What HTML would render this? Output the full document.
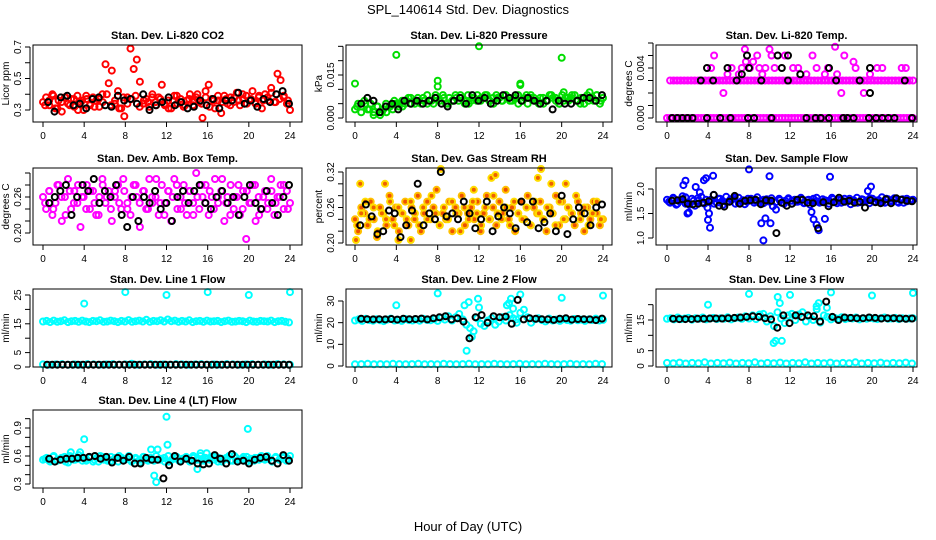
<!DOCTYPE html>
<html><head><meta charset="utf-8">
<style>
body{margin:0;background:#fff;}
svg{display:block;font-family:"Liberation Sans",Arial,sans-serif;}
</style></head>
<body>
<svg id="c" width="936" height="540" viewBox="0 0 936 540">
<text x="468" y="14" text-anchor="middle" font-size="13">SPL_140614  Std. Dev. Diagnostics</text>
<text x="468" y="531" text-anchor="middle" font-size="13">Hour of Day (UTC)</text>
</svg>
<script>
const xTicks=[0,4,8,12,16,20,24];
// CO2
const co2Red=[0.35,0.38,0.33,0.40,0.31,0.36,0.29,0.38,0.34,0.37,0.32,0.39,0.35,0.30,0.37,0.33,0.38,0.36,0.32,0.40,0.59,0.47,0.55,0.34,0.42,0.31,0.26,0.38,0.69,0.56,0.62,0.48,0.34,0.37,0.32,0.40,0.35,0.38,0.46,0.33,0.36,0.31,0.39,0.34,0.37,0.32,0.36,0.40,0.33,0.38,0.35,0.25,0.42,0.46,0.37,0.31,0.36,0.28,0.39,0.34,0.38,0.35,0.41,0.33,0.37,0.39,0.36,0.42,0.34,0.38,0.31,0.40,0.36,0.44,0.35,0.53,0.49,0.38,0.34,0.30];
const co2RedB=[0.33,0.36,0.39,0.31,0.35,0.38,0.33,0.37,0.30,0.36,0.39,0.34,0.32,0.37,0.35,0.40,0.33,0.36,0.31,0.38,0.34,0.37,0.39,0.32,0.36,0.35,0.38,0.33,0.37,0.34,0.31,0.36,0.39,0.35,0.33,0.37,0.36,0.40,0.34,0.38,0.32,0.36,0.39,0.35,0.37,0.33,0.38,0.36,0.40,0.34,0.37,0.35,0.39,0.36,0.38,0.41,0.35,0.37,0.39,0.36];
const co2Black=[0.35,0.29,0.38,0.39,0.33,0.34,0.31,0.37,0.38,0.33,0.32,0.39,0.36,0.37,0.34,0.40,0.30,0.33,0.35,0.38,0.33,0.35,0.31,0.32,0.36,0.33,0.37,0.31,0.36,0.36,0.41,0.34,0.36,0.32,0.37,0.35,0.40,0.42,0.34];
// Pressure
const presGreen=[0.003,0.005,0.004,0.006,0.003,0.005,0.002,0.004,0.001,0.003,0.002,0.004,0.003,0.005,0.004,0.006,0.005,0.007,0.005,0.006,0.007,0.005,0.006,0.008,0.006,0.005,0.007,0.006,0.008,0.005,0.007,0.006,0.008,0.006,0.007,0.005,0.008,0.006,0.007,0.008,0.006,0.007,0.008,0.006,0.007,0.008,0.007,0.006,0.008,0.007,0.006,0.007,0.008,0.006,0.007,0.005,0.008,0.007,0.006,0.007,0.005,0.006,0.008,0.007,0.006,0.005,0.008,0.007,0.006,0.007,0.008,0.006,0.007,0.005,0.008,0.007,0.006,0.008,0.005,0.007];
const presGreenB=[0.004,0.002,0.005,0.003,0.001,0.004,0.002,0.005,0.004,0.006,0.005,0.004,0.006,0.007,0.005,0.006,0.007,0.005,0.006,0.008,0.006,0.007,0.005,0.006,0.007,0.008,0.006,0.005,0.007,0.006,0.007,0.008,0.006,0.005,0.007,0.006,0.008,0.006,0.007,0.005,0.006,0.008,0.007,0.006,0.005,0.007,0.006,0.008,0.007,0.005,0.006,0.007,0.008,0.006,0.005,0.007,0.006,0.007,0.008,0.006];
const presOutH=[0,4,8,8,12,16,16,20,20.2,22.7];
const presOutV=[0.012,0.022,0.013,0.011,0.025,0.0115,0.012,0.021,0.009,0.009];
const presBlack=[0.005,0.007,0.006,0.002,0.004,0.005,0.003,0.006,0.005,0.006,0.005,0.006,0.007,0.005,0.004,0.006,0.007,0.005,0.008,0.006,0.007,0.005,0.006,0.008,0.007,0.008,0.006,0.007,0.006,0.005,0.006,0.003,0.006,0.005,0.005,0.006,0.007,0.007,0.006,0.008];
// Li-820 temp
const tempMagZero=[0,0,0,0,0,0,0,0,0,0,0,0,0,0,0,0,0,0,0,0,0,0,0,0,0,0,0,0,0,0,0,0,0,0,0,0,0,0,0,0,0,0,0,0,0,0,0,0,0,0,0,0,0,0,0,0,0,0,0,0,0,0,0,0,0,0,0,0,0,0,0,0,0,0,0,0,0,0,0,0];
const tempMagRow=[0.003,0.003,0.003,0.003,0.003,0.003,0.003,0.003,0.003,0.003,0.003,0.003,0.003,0.003,0.003,0.003,0.003,0.003,0.003,0.003,0.003,0.003,0.003,0.003,0.003,0.003,0.003,0.003,0.003,0.003,0.003,0.003,0.003,0.003,0.003,0.003,0.003,0.003,0.003,0.003,0.003,0.003,0.003,0.003,0.003,0.003,0.003,0.003,0.003,0.003,0.003,0.003,0.003,0.003,0.003,0.003,0.003,0.003,0.003,0.003,0.003,0.003,0.003,0.003,0.003,0.003,0.003,0.003,0.003,0.003];
const tempScatH=[4.3,4.6,5.5,5.9,6.3,7.0,7.3,7.6,7.7,7.8,8.1,8.4,8.8,9.0,9.3,9.6,10.0,10.2,10.5,11.2,11.5,12.3,12.8,13.6,14.2,14.6,15.4,15.7,16.4,16.6,17.0,17.3,18.2,18.4,19.2,19.8,20.5,21.0,22.9,23.3];
const tempScatV=[0.004,0.005,0.002,0.0035,0.004,0.0035,0.004,0.0055,0.0045,0.006,0.004,0.0045,0.005,0.004,0.0035,0.004,0.0055,0.005,0.004,0.006,0.005,0.004,0.004,0.0035,0.005,0.004,0.0035,0.004,0.0057,0.0035,0.002,0.005,0.0045,0.004,0.002,0.0035,0.004,0.004,0.004,0.004];
const tempBlackH=[0.5,1,1.5,2,2.5,3.3,3.9,4.5,5.2,6.2,6.8,7.9,8.5,9.2,10.2,11.8,13.6,14.5,15.0,15.8,16.5,17.2,17.6,18.2,18.8,19.7,20.4,21.0,21.6,22.2,23.2,23.9];
const tempBlackV=[0,0,0,0,0,0.003,0,0.003,0,0,0.003,0,0,0.003,0,0.003,0,0,0,0,0.003,0,0,0,0.003,0,0,0,0,0,0.003,0];
const tempBlackXH=[3.9,5.9,7.3,7.8,8.0,10.8,11.2,11.8,13.0,15.8,19.8,19.8];
const tempBlackXV=[0.004,0.004,0.0035,0.005,0.004,0.005,0.004,0.005,0.0035,0.004,0.004,0.002];
// Amb box temp
const ambMag=[0.26,0.24,0.27,0.23,0.25,0.28,0.22,0.26,0.29,0.24,0.27,0.25,0.21,0.26,0.28,0.24,0.27,0.23,0.26,0.29,0.25,0.27,0.22,0.26,0.28,0.24,0.27,0.25,0.23,0.28,0.26,0.21,0.27,0.24,0.29,0.25,0.26,0.23,0.28,0.25,0.27,0.22,0.29,0.24,0.26,0.28,0.23,0.27,0.25,0.30,0.24,0.26,0.28,0.23,0.26,0.29,0.25,0.27,0.22,0.26,0.28,0.24,0.26,0.23,0.27,0.19,0.25,0.28,0.22,0.26,0.24,0.27,0.25,0.29,0.23,0.26,0.28,0.24,0.27,0.25];
const ambMagB=[0.25,0.27,0.24,0.28,0.26,0.23,0.27,0.25,0.28,0.26,0.24,0.27,0.25,0.23,0.28,0.26,0.24,0.27,0.25,0.29,0.24,0.26,0.28,0.25,0.27,0.24,0.26,0.29,0.25,0.23,0.27,0.26,0.28,0.24,0.25,0.27,0.23,0.26,0.28,0.25,0.27,0.24,0.26,0.29,0.25,0.23,0.26,0.28,0.24,0.27,0.25,0.28,0.23,0.26,0.24,0.27,0.25,0.26,0.28,0.24];
const ambBlack=[0.25,0.26,0.27,0.28,0.23,0.26,0.28,0.27,0.29,0.25,0.27,0.26,0.28,0.23,0.21,0.26,0.22,0.26,0.25,0.27,0.24,0.25,0.22,0.26,0.27,0.25,0.27,0.28,0.25,0.24,0.26,0.27,0.25,0.26,0.23,0.26,0.28,0.25,0.24,0.27,0.25,0.23,0.26,0.28];
// Gas stream RH
const rhOr=[0.24,0.22,0.26,0.25,0.23,0.27,0.24,0.21,0.26,0.25,0.23,0.28,0.24,0.26,0.22,0.25,0.27,0.23,0.26,0.24,0.28,0.22,0.25,0.27,0.24,0.26,0.29,0.23,0.25,0.24,0.27,0.22,0.26,0.25,0.28,0.23,0.25,0.26,0.24,0.27,0.22,0.25,0.28,0.24,0.26,0.23,0.27,0.25,0.29,0.24,0.26,0.22,0.25,0.27,0.24,0.28,0.23,0.26,0.25,0.27,0.24,0.22,0.26,0.25,0.28,0.23,0.27,0.24,0.26,0.25,0.23,0.27,0.25,0.22,0.26,0.24,0.27,0.25,0.23,0.24];
const rhOrB=[0.23,0.25,0.27,0.24,0.26,0.22,0.25,0.24,0.27,0.23,0.26,0.25,0.24,0.27,0.25,0.23,0.26,0.24,0.28,0.25,0.23,0.26,0.24,0.27,0.25,0.22,0.26,0.24,0.27,0.25,0.23,0.26,0.24,0.28,0.25,0.24,0.26,0.23,0.27,0.25,0.24,0.26,0.23,0.27,0.25,0.24,0.26,0.25,0.23,0.27,0.24,0.26,0.25,0.28,0.24,0.26,0.23,0.25,0.27,0.24];
const rhOutH=[0.1,0.5,2.9,4.2,5.4,8.3,11.5,13.2,13.6,17.7,18.0,19.0,20.4];
const rhOutV=[0.205,0.30,0.30,0.205,0.205,0.325,0.29,0.31,0.315,0.31,0.325,0.30,0.30];
const rhBlack=[0.23,0.265,0.245,0.215,0.22,0.255,0.25,0.21,0.23,0.255,0.30,0.23,0.25,0.24,0.32,0.245,0.25,0.24,0.27,0.25,0.225,0.24,0.27,0.22,0.245,0.26,0.25,0.225,0.27,0.235,0.27,0.225,0.235,0.25,0.22,0.28,0.215,0.24,0.26,0.25,0.23,0.26,0.265];
// Sample flow
const sfBlue=[1.78,1.72,1.82,1.68,1.75,1.85,1.70,1.52,1.80,1.66,1.76,1.84,1.70,1.62,1.78,1.88,1.72,1.80,1.68,1.84,1.74,1.79,1.70,1.82,1.75,1.69,1.80,1.77,1.72,1.83,1.76,1.71,1.79,1.74,1.65,1.58,1.80,1.72,1.76,1.81,1.70,1.78,1.74,1.82,1.71,1.77,1.68,1.80,1.75,1.72,1.79,1.76,1.70,1.82,1.74,1.78,1.72,1.80,1.75,1.69,1.77,1.82,1.73,1.78,1.76,1.71,1.80,1.74,1.77,1.83,1.72,1.79,1.75,1.81,1.74,1.78,1.72,1.80,1.76,1.78];
const sfBlueB=[1.74,1.80,1.70,1.77,1.83,1.68,1.76,1.81,1.72,1.78,1.75,1.70,1.80,1.76,1.73,1.79,1.82,1.71,1.77,1.74,1.80,1.76,1.72,1.78,1.75,1.81,1.73,1.77,1.70,1.79,1.76,1.74,1.80,1.72,1.78,1.75,1.82,1.73,1.77,1.76,1.79,1.71,1.78,1.74,1.80,1.76,1.72,1.79,1.75,1.81,1.74,1.77,1.73,1.80,1.76,1.78,1.72,1.79,1.75,1.77];
const sfOutH=[1.6,1.8,2.0,2.8,3.2,3.6,3.8,4.0,4.1,4.2,4.5,8.0,9.2,9.4,9.6,10.0,10.1,14.1,14.3,14.6,14.8,15.4,15.9,19.6,19.9];
const sfOutV=[2.08,2.17,1.50,2.04,1.93,2.18,2.22,1.37,1.50,1.21,2.27,2.40,1.30,0.95,1.40,2.26,1.30,1.53,1.38,1.27,1.16,1.39,2.25,1.96,2.05];
const sfBlack=[1.76,1.77,1.79,1.70,1.69,1.70,1.72,1.75,1.88,1.66,1.64,1.74,1.86,1.70,1.76,1.77,1.78,1.69,1.77,1.76,1.10,1.72,1.66,1.70,1.78,1.78,1.72,1.71,1.20,1.73,1.65,1.73,1.82,1.74,1.76,1.72,1.74,1.62,1.77,1.73,1.71,1.79,1.71,1.81,1.78,1.76,1.75];
// Line 1 flow
const l1CyanHigh=[15.8,16.0,15.6,16.1,15.7,15.9,16.2,15.6,15.9,16.0,15.7,16.1,15.8,15.6,16.0,15.9,16.2,15.7,15.8,16.1,15.9,15.6,16.0,15.8,16.3,15.7,15.9,16.1,15.8,16.4,15.7,16.0,15.9,16.2,15.8,16.5,15.9,16.1,15.7,16.0,15.8,16.2,15.6,15.9,16.0,15.7,16.1,15.8,15.9,16.0,15.6,15.9,16.1,15.7,15.8,16.0,15.9,15.6,16.1,15.8,15.7,16.0,15.9,15.8,16.1,15.6,15.9,16.0,15.7,15.5];
const l1OutH=[4,8,12,16,20,24];
const l1OutV=[22,26,25,26,25,26];
const l1CyanLow=[0.9,0.8,0.9,1.0,0.8,0.9,0.8,1.0,0.9,0.8,0.9,1.0,0.8,0.9,1.1,0.8,0.9,1.0,0.8,0.9,0.8,1.0,0.9,0.8,0.9,1.0,0.8,0.9,0.8,1.0,0.9,0.8,0.9,1.0,0.8,0.9,0.8,1.0,0.9,0.8];
const l1Black=[0.8,0.8,0.8,0.8,0.8,0.8,0.8,0.8,0.8,0.8,0.8,0.8,0.8,0.8,0.8,0.8,0.8,0.8,0.8,0.8,0.8,0.8,0.8,0.8,0.8,0.8,0.8,0.8,0.8,0.8,0.8,0.8,0.8,0.8,0.8,0.8,0.8,0.8,0.8,0.8,0.8,0.8,0.8,0.8,0.8,0.8,0.8,0.8];
// Line 2 flow
const l2Cyan=[21.0,21.5,20.8,21.8,21.2,20.9,21.6,21.1,20.7,21.4,21.9,21.0,21.3,20.8,21.7,21.2,21.0,21.5,20.9,21.8,21.3,21.1,21.6,20.8,22.2,21.4,23.0,21.0,22.5,24.0,21.5,19.0,17.5,16.0,22.0,19.5,18.5,21.0,22.0,19.0,20.5,22.5,21.0,23.5,22.0,20.0,24.5,26.0,22.5,20.0,21.5,22.0,21.2,20.6,21.9,21.0,21.4,20.8,21.6,21.2,20.9,21.7,21.1,21.4,20.8,21.5,21.2,21.9,21.0,21.3];
const l2OutH=[4,8,10.6,10.8,11.0,11.3,11.9,12.0,14.7,14.9,15.1,15.3,15.6,16.0,20,24];
const l2OutV=[28,33.5,28,7,29.5,13.5,31,27,28,29,31,26.5,21.5,33,31.5,32.5];
const l2CyanLow=[0.8,0.9,1.0,0.8,0.9,0.8,1.0,0.9,0.8,0.9,1.0,0.8,0.9,0.8,1.0,0.9,0.8,0.9,1.0,0.8,0.9,0.8,1.0,0.9,0.8,0.9,1.0,0.8,0.9,0.8,1.0,0.9,0.8,0.9,1.0,0.8,0.9,0.8,1.0,0.9];
const l2Black=[21.8,21.6,21.5,21.6,21.5,21.7,21.4,21.8,21.6,21.7,21.9,21.5,22.0,22.5,23.0,21.5,22.0,20.5,12.8,22.5,23.5,20.0,23.0,22.5,22.8,19.5,30.5,21.5,22.0,21.8,21.6,21.5,21.3,21.8,22.0,21.4,21.7,21.6,21.5,21.2,21.9];
// Line 3 flow
const l3Cyan=[15.4,15.6,15.2,15.8,15.3,15.5,15.7,15.1,15.6,15.4,15.8,15.2,15.5,15.7,15.3,15.6,15.4,15.9,15.2,15.6,15.8,15.4,16.2,15.5,16.5,15.3,16.8,17.0,14.5,16.2,13.0,17.5,15.5,14.0,16.5,17.0,15.0,16.8,17.5,14.5,16.0,15.0,18.5,14.2,16.5,16.0,15.2,15.7,15.4,15.9,15.3,15.6,15.5,15.8,15.2,15.6,15.4,15.7,15.5,15.3,15.6,15.8,15.4,15.5,15.7,15.3,15.6,15.4,15.5,15.6];
const l3OutH=[4,8,10.4,10.6,10.8,11.0,11.2,12.0,14.6,14.8,15.6,16.0,20,24];
const l3OutV=[20,23.5,7.5,8.2,22.5,20.5,8.2,23.2,19.5,20.5,19,24,23,23.8];
const l3CyanLow=[1.0,0.9,1.1,0.8,1.0,0.9,1.2,0.8,1.0,0.9,1.1,0.8,1.0,0.9,1.2,0.8,1.0,0.9,1.1,0.8,1.0,0.9,1.2,0.8,1.0,0.9,1.1,0.8,1.0,0.9,1.2,0.8,1.0,0.9,1.1,0.8,1.0,0.9,1.1,0.8];
const l3Black=[15.4,15.3,15.3,15.3,15.4,15.4,15.5,15.5,15.5,15.6,15.7,15.8,16.0,16.2,16.0,15.6,15.2,12.5,16.5,14.0,16.5,16.0,16.5,16.2,14.5,21.0,16.0,15.0,15.8,15.7,15.6,15.6,15.8,15.7,15.5,15.6,15.6,15.5,15.4,15.5];
// Line 4 flow
const l4Cyan=[0.56,0.58,0.54,0.60,0.55,0.57,0.59,0.53,0.58,0.56,0.61,0.55,0.57,0.59,0.54,0.58,0.60,0.56,0.55,0.59,0.57,0.54,0.58,0.56,0.60,0.55,0.57,0.53,0.59,0.56,0.58,0.55,0.67,0.57,0.54,0.60,0.56,0.58,0.55,0.57,0.59,0.54,0.58,0.56,0.60,0.55,0.57,0.59,0.56,0.58,0.54,0.57,0.60,0.55,0.58,0.56,0.59,0.54,0.57,0.55,0.58,0.60,0.56,0.57,0.54,0.59,0.56,0.58,0.55,0.60];
const l4CyanB=[0.57,0.55,0.59,0.56,0.58,0.54,0.60,0.56,0.57,0.59,0.55,0.58,0.56,0.54,0.59,0.57,0.55,0.58,0.60,0.56,0.57,0.54,0.58,0.56,0.59,0.55,0.57,0.60,0.56,0.58,0.54,0.57,0.59,0.55,0.58,0.56,0.60,0.57,0.55,0.58,0.56,0.59,0.54,0.57,0.58,0.55,0.60,0.56,0.57,0.59,0.55,0.58,0.56,0.57,0.60,0.55,0.58,0.56,0.59,0.57];
const l4OutH=[2.7,3.6,4.0,10.5,10.8,11.0,12.0,12.1,15.0,15.3,15.9,19.9];
const l4OutV=[0.64,0.64,0.78,0.67,0.39,0.32,1.02,0.72,0.46,0.63,0.63,0.89];
const l4Black=[0.57,0.54,0.56,0.57,0.57,0.58,0.58,0.59,0.60,0.57,0.59,0.53,0.58,0.55,0.59,0.52,0.52,0.58,0.56,0.56,0.36,0.50,0.60,0.54,0.57,0.55,0.52,0.51,0.52,0.61,0.57,0.52,0.62,0.54,0.55,0.52,0.56,0.58,0.59,0.55,0.52,0.61,0.55];

const svg=document.getElementById('c');
const NS='http://www.w3.org/2000/svg';
function mk(tag,attrs,parent){const e=document.createElementNS(NS,tag);for(const k in attrs)e.setAttribute(k,attrs[k]);(parent||svg).appendChild(e);return e;}

const cols=[{l:33,r:302,x0:43,x24:290},{l:346,r:612,x0:355,x24:603},{l:656,r:917,x0:667,x24:913}];
const rows=[{t:45,b:122},{t:168,b:245},{t:289,b:367},{t:410,b:488}];

function even(vals,h0,h1){return vals.map((v,i)=>h0+(h1-h0)*i/(vals.length-1));}

const panels=[
 {name:'co2',title:'Stan. Dev. Li-820 CO2',ylab:'Licor ppm',c:0,r:0,y0:0.3,py0:110,y1:0.7,py1:47,ticks:[0.3,0.4,0.5,0.6,0.7],labels:{'0.3':'0.3','0.5':'0.5','0.7':'0.7'},
  series:[{v:co2Red,h:even(co2Red,0,24),col:'#ff0000'},{v:co2RedB,h:even(co2RedB,0.2,23.8),col:'#ff0000'},{v:co2Black,h:even(co2Black,0.5,23.9),col:'#000'}]},
 {name:'pressure',title:'Stan. Dev. Li-820 Pressure',ylab:'kPa',c:1,r:0,y0:0,py0:118,y1:0.015,py1:75,ticks:[0,0.005,0.01,0.015,0.02,0.025],labels:{'0':'0.000','0.015':'0.015'},
  series:[{v:presGreen,h:even(presGreen,0,24),col:'#00dd00'},{v:presGreenB,h:even(presGreenB,0.2,23.8),col:'#00dd00'},{v:presOutV,h:presOutH,col:'#00dd00'},{v:presBlack,h:even(presBlack,0.6,23.9),col:'#000'}]},
 {name:'li820-temp',title:'Stan. Dev. Li-820 Temp.',ylab:'degrees C',c:2,r:0,y0:0,py0:118,y1:0.004,py1:68,ticks:[0,0.001,0.002,0.003,0.004,0.005,0.006],labels:{'0':'0.000','0.004':'0.004'},
  series:[{v:tempMagZero,h:even(tempMagZero,0,24),col:'#ff00ff'},{v:tempMagRow,h:even(tempMagRow,0.3,24),col:'#ff00ff'},{v:tempScatV,h:tempScatH,col:'#ff00ff'},{v:tempBlackV,h:tempBlackH,col:'#000'},{v:tempBlackXV,h:tempBlackXH,col:'#000'}]},
 {name:'amb-temp',title:'Stan. Dev. Amb. Box Temp.',ylab:'degrees C',c:0,r:1,y0:0.20,py0:233,y1:0.26,py1:197,ticks:[0.20,0.22,0.24,0.26,0.28,0.30],labels:{'0.2':'0.20','0.26':'0.26'},
  series:[{v:ambMag,h:even(ambMag,0,24),col:'#ff00ff'},{v:ambMagB,h:even(ambMagB,0.2,23.8),col:'#ff00ff'},{v:ambBlack,h:even(ambBlack,0.6,23.9),col:'#000'}]},
 {name:'rh',title:'Stan. Dev. Gas Stream RH',ylab:'percent',c:1,r:1,y0:0.20,py0:243,y1:0.32,py1:172,ticks:[0.20,0.22,0.24,0.26,0.28,0.30,0.32],labels:{'0.2':'0.20','0.26':'0.26','0.32':'0.32'},
  series:[{v:rhOr,h:even(rhOr,0,24),col:'#ffc000',fill:'#ee5000'},{v:rhOrB,h:even(rhOrB,0.2,23.8),col:'#ffdd00',fill:'#ee6000'},{v:rhOutV,h:rhOutH,col:'#ffdd00',fill:'#ee6000'},{v:rhBlack,h:even(rhBlack,0.5,23.9),col:'#000'}]},
 {name:'sample-flow',title:'Stan. Dev. Sample Flow',ylab:'ml/min',c:2,r:1,y0:1.0,py0:238,y1:2.0,py1:189,ticks:[1.0,1.5,2.0],labels:{'1':'1.0','1.5':'1.5','2':'2.0'},
  series:[{v:sfBlue,h:even(sfBlue,0,24),col:'#0000ff'},{v:sfBlueB,h:even(sfBlueB,0.2,23.8),col:'#0000ff'},{v:sfOutV,h:sfOutH,col:'#0000ff'},{v:sfBlack,h:even(sfBlack,0.5,23.9),col:'#000'}]},
 {name:'line1-flow',title:'Stan. Dev. Line 1 Flow',ylab:'ml/min',c:0,r:2,y0:0,py0:367,y1:25,py1:295,ticks:[0,5,10,15,20,25],labels:{'0':'0','5':'5','15':'15','25':'25'},
  series:[{v:l1CyanHigh,h:even(l1CyanHigh,0,23.9),col:'#00ffff'},{v:l1OutV,h:l1OutH,col:'#00ffff'},{v:l1CyanLow,h:even(l1CyanLow,0,24),col:'#00ffff'},{v:l1Black,h:even(l1Black,0.4,23.9),col:'#000'}]},
 {name:'line2-flow',title:'Stan. Dev. Line 2 Flow',ylab:'ml/min',c:1,r:2,y0:0,py0:366,y1:30,py1:301,ticks:[0,10,20,30],labels:{'0':'0','10':'10','20':'20','30':'30'},
  series:[{v:l2Cyan,h:even(l2Cyan,0,24),col:'#00ffff'},{v:l2OutV,h:l2OutH,col:'#00ffff'},{v:l2CyanLow,h:even(l2CyanLow,0,23.9),col:'#00ffff'},{v:l2Black,h:even(l2Black,0.6,23.9),col:'#000'}]},
 {name:'line3-flow',title:'Stan. Dev. Line 3 Flow',ylab:'ml/min',c:2,r:2,y0:0,py0:366,y1:15,py1:320,ticks:[0,5,10,15,20],labels:{'0':'0','5':'5','15':'15'},
  series:[{v:l3Cyan,h:even(l3Cyan,0,24),col:'#00ffff'},{v:l3OutV,h:l3OutH,col:'#00ffff'},{v:l3CyanLow,h:even(l3CyanLow,0,23.9),col:'#00ffff'},{v:l3Black,h:even(l3Black,0.6,23.9),col:'#000'}]},
 {name:'line4-flow',title:'Stan. Dev. Line 4 (LT) Flow',ylab:'ml/min',c:0,r:3,y0:0.3,py0:484,y1:0.9,py1:428,ticks:[0.3,0.4,0.5,0.6,0.7,0.8,0.9,1.0],labels:{'0.3':'0.3','0.6':'0.6','0.9':'0.9'},
  series:[{v:l4Cyan,h:even(l4Cyan,0,24),col:'#00ffff'},{v:l4CyanB,h:even(l4CyanB,0.2,23.8),col:'#00ffff'},{v:l4OutV,h:l4OutH,col:'#00ffff'},{v:l4Black,h:even(l4Black,0.6,23.9),col:'#000'}]}
];

panels.forEach(p=>{
 const C=cols[p.c],R=rows[p.r];
 const g=mk('g',{});
 
 
 const xs=h=>C.x0+(C.x24-C.x0)*h/24;
 const ys=v=>p.py0+(p.py1-p.py0)*(v-p.y0)/(p.y1-p.y0);
 const t=mk('text',{x:(C.l+C.r)/2,y:R.t-6,'text-anchor':'middle','font-size':'11','font-weight':'bold'},g);
 t.textContent=p.title;
 
 
 const pg=mk('g',{},g);
 
 
 p.series.forEach(s=>{
  s.v.forEach((v,i)=>{
   const y=ys(v);
   if(y<R.t-1||y>R.b+1)return;
   const ci=mk('circle',{cx:xs(s.h[i]).toFixed(1),cy:y.toFixed(1),r:3,fill:s.fill||'none',stroke:s.col,'stroke-width':2},pg);
   
   
  });
 });
 const box=mk('rect',{x:C.l,y:R.t,width:C.r-C.l,height:R.b-R.t,fill:'none',stroke:'#000','stroke-width':1},g);
 
 
 const xa=mk('g',{},g);
 
 
 mk('line',{x1:xs(0),x2:xs(24),y1:R.b,y2:R.b,stroke:'#000'},xa);
 xTicks.forEach(h=>{
  mk('line',{x1:xs(h),x2:xs(h),y1:R.b,y2:R.b+5,stroke:'#000'},xa);
  const tl=mk('text',{x:xs(h),y:R.b+17,'text-anchor':'middle','font-size':'10'},xa);
  tl.textContent=h;
 });
 const ya=mk('g',{},g);
 
 
 const ax=C.l-3;
 const tk=p.ticks.filter(v=>ys(v)>=R.t-2&&ys(v)<=R.b+2);
 mk('line',{x1:ax,x2:ax,y1:ys(tk[0]),y2:ys(tk[tk.length-1]),stroke:'#000'},ya);
 tk.forEach(v=>{
  const y=ys(v);
  mk('line',{x1:ax-5,x2:ax,y1:y,y2:y,stroke:'#000'},ya);
  const key=String(+v.toFixed(4));
  if(p.labels[key]){
   const tl=mk('text',{x:ax-9,y:y,'text-anchor':'middle','font-size':'10',transform:`rotate(-90 ${ax-9} ${y})`},ya);
   tl.textContent=p.labels[key];
  }
 });
 const yl=mk('text',{x:C.l-24,y:(R.t+R.b)/2,'text-anchor':'middle','font-size':'10',transform:`rotate(-90 ${C.l-24} ${(R.t+R.b)/2})`},g);
 yl.textContent=p.ylab;
 
 
});
</script>
</body></html>
